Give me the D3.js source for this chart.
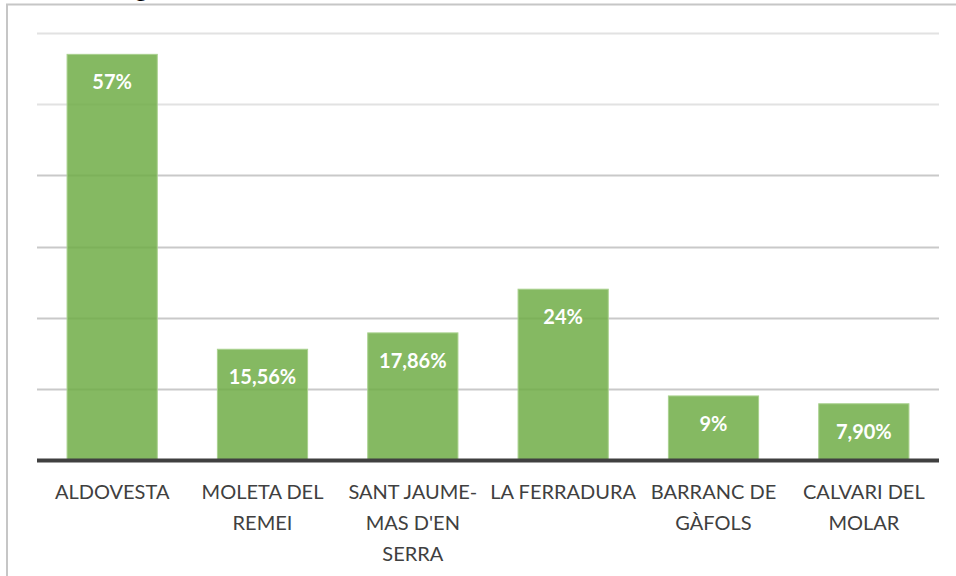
<!DOCTYPE html>
<html>
<head>
<meta charset="utf-8">
<script src="https://cdn.jsdelivr.net/npm/d3@7"></script>
<style>
  html, body { margin: 0; padding: 0; background: #fff; }
  svg { display: block; }
</style>
</head>
<body>
<svg id="chart" width="956" height="576"></svg>
<script>
// Share of each site (percent)
const categories = ["ALDOVESTA", "MOLETA DEL REMEI", "SANT JAUME-MAS D'EN SERRA", "LA FERRADURA", "BARRANC DE GÀFOLS", "CALVARI DEL MOLAR"];
const values = [57, 15.56, 17.86, 24, 9, 7.90];
const valueLabels = ["57%", "15,56%", "17,86%", "24%", "9%", "7,90%"];
// Axis category labels, broken into lines
const tickLines = [
  ["ALDOVESTA"],
  ["MOLETA DEL", "REMEI"],
  ["SANT JAUME-", "MAS D'EN", "SERRA"],
  ["LA FERRADURA"],
  ["BARRANC DE", "GÀFOLS"],
  ["CALVARI DEL", "MOLAR"]
];
const gridTicks = [10, 20, 30, 40, 50, 60];

const svg = d3.select("#chart");
const W = 956, H = 576;
const plot = { left: 37, right: 939, top: 33, bottom: 460 };

// Chart-area frame
svg.append("rect")
  .attr("x", 7).attr("y", 4.5)
  .attr("width", W + 10).attr("height", H + 10)
  .attr("fill", "#fff")
  .attr("stroke", "#c6c6c6").attr("stroke-width", 2);

// Title, mostly above the visible area
svg.append("text")
  .attr("x", 141).attr("y", -4)
  .attr("text-anchor", "middle")
  .attr("font-family", "Liberation Serif, serif")
  .attr("font-size", 24)
  .attr("fill", "#000")
  .text("g");

const x = d3.scaleBand()
  .domain(categories)
  .range([plot.left, plot.right])
  .paddingInner(0.4)
  .paddingOuter(0.2);

const y = d3.scaleLinear()
  .domain([0, 60])
  .range([plot.bottom, plot.top]);

// Horizontal gridlines
svg.append("g")
  .selectAll("line")
  .data(gridTicks)
  .join("line")
  .attr("x1", plot.left).attr("x2", plot.right)
  .attr("y1", d => Math.round(y(d)) + 0.5)
  .attr("y2", d => Math.round(y(d)) + 0.5)
  .attr("stroke", d => d >= 50 ? "#e2e2e2" : "#c9c9c9")
  .attr("stroke-width", 2);

// Bars
svg.append("g")
  .selectAll("rect")
  .data(values)
  .join("rect")
  .attr("x", (d, i) => x(categories[i]))
  .attr("y", d => y(d))
  .attr("width", x.bandwidth())
  .attr("height", d => plot.bottom - y(d))
  .attr("fill", "#70ad47")
  .attr("fill-opacity", 0.85)
  .attr("stroke", "#a9d18e")
  .attr("stroke-width", 1);

// Value labels inside the bars
svg.append("g")
  .selectAll("text")
  .data(values)
  .join("text")
  .attr("x", (d, i) => x(categories[i]) + x.bandwidth() / 2)
  .attr("y", d => y(d) + 35)
  .attr("text-anchor", "middle")
  .attr("font-family", "Lato, 'Open Sans', sans-serif")
  .attr("font-weight", "bold")
  .attr("font-size", 20)
  .attr("fill", "#fff")
  .text((d, i) => valueLabels[i]);

// Category axis
const xAxis = svg.append("g")
  .attr("transform", `translate(0,${plot.bottom})`)
  .call(d3.axisBottom(x).tickSize(0).tickFormat(""));
xAxis.select(".domain")
  .attr("d", `M${plot.left},0.5H${plot.right}`)
  .attr("stroke", "#404040")
  .attr("stroke-width", 4);

xAxis.selectAll(".tick").each(function (d, i) {
  const t = d3.select(this).append("text")
    .attr("text-anchor", "middle")
    .attr("font-family", "Lato, 'Open Sans', sans-serif")
    .attr("font-size", 20)
    .attr("fill", "#404040");
  t.selectAll("tspan")
    .data(tickLines[i])
    .join("tspan")
    .attr("x", 0)
    .attr("y", (l, j) => 39 + j * 31)
    .text(l => l);
});
</script>
</body>
</html>
